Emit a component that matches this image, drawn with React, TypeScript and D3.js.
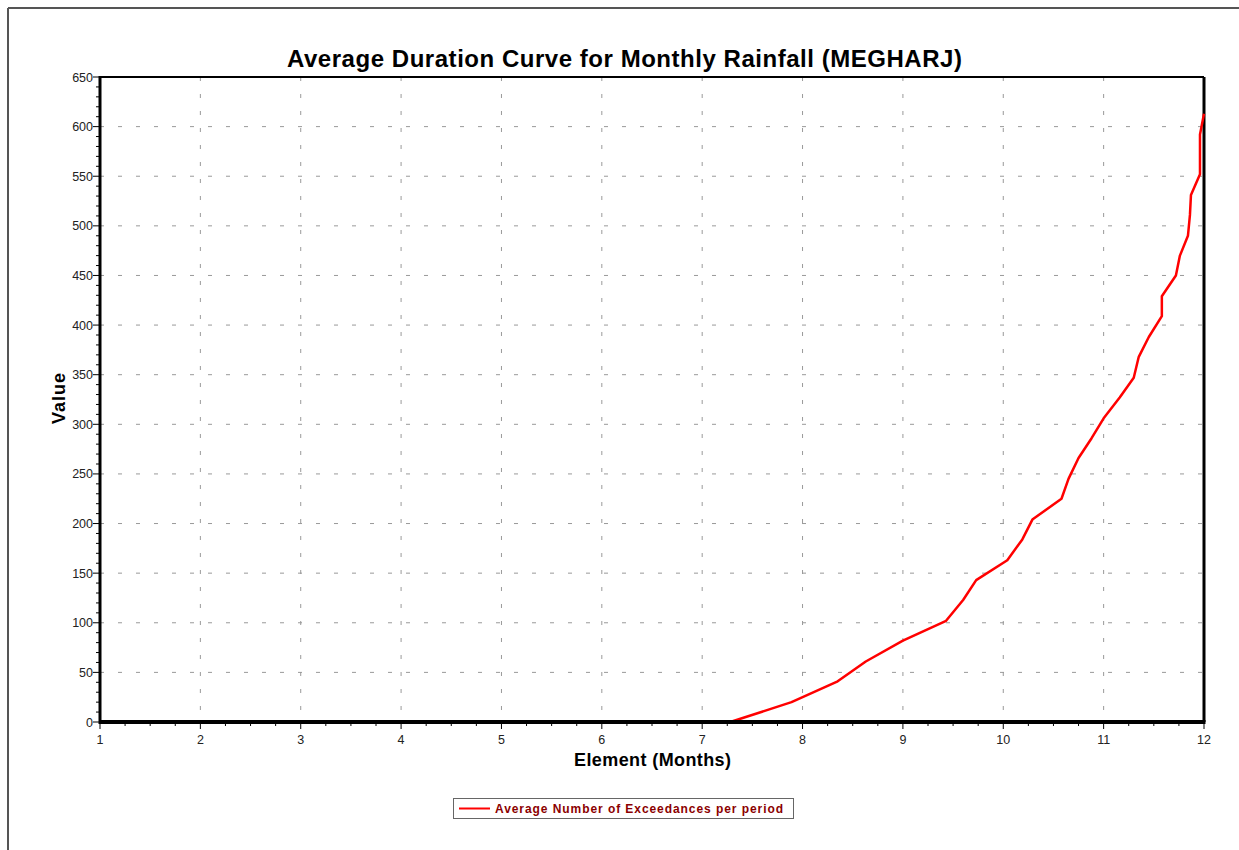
import React from "react";
import * as d3 from "d3";

const months = [7.28, 7.89, 8.35, 8.63, 9.0, 9.43, 9.6, 9.73, 10.04, 10.19, 10.29, 10.58, 10.65, 10.75, 10.88, 11.0, 11.16, 11.3, 11.35, 11.45, 11.58, 11.58, 11.72, 11.76, 11.84, 11.86, 11.87, 11.96, 11.96, 11.96, 12.0];
const values = [0, 20, 41, 61, 82, 102, 123, 143, 163, 184, 204, 225, 245, 266, 286, 306, 327, 347, 368, 388, 409, 429, 450, 470, 490, 511, 531, 552, 572, 592, 613];
const xTicks = [1, 2, 3, 4, 5, 6, 7, 8, 9, 10, 11, 12];
const yTicks = [0, 50, 100, 150, 200, 250, 300, 350, 400, 450, 500, 550, 600, 650];

const title = "Average Duration Curve for Monthly Rainfall (MEGHARJ)";
const xLabel = "Element (Months)";
const yLabel = "Value";
const legendLabel = "Average Number of Exceedances per period";

export default function App() {
  const W = 1239, H = 850;
  const x = d3.scaleLinear().domain([1, 12]).range([100, 1204]);
  const y = d3.scaleLinear().domain([0, 650]).range([722, 77]);
  const pts: [number, number][] = months.map((m, i) => [m, values[i]]);
  const line = d3.line<[number, number]>().x(d => x(d[0])).y(d => y(d[1]));
  const minorX = d3.range(1, 12.001, 0.25).filter(v => Math.abs(v - Math.round(v)) > 0.01);
  const minorY = d3.range(0, 650.1, 10).filter(v => v % 50 !== 0);
  const font = "Arial, 'Liberation Sans', Helvetica, sans-serif";
  const [x0, x1] = x.range();
  const [y0, y1] = y.range();
  return (
    <svg width={W} height={H} style={{ position: "absolute", left: 0, top: 0, background: "#fff" }} fontFamily={font}>
      <rect x={0} y={0} width={W} height={H} fill="#fff" />
      {/* outer frame */}
      <line x1={8} y1={8} x2={W + 2} y2={8} stroke="#555" strokeWidth={2} />
      <line x1={8} y1={8} x2={8} y2={H + 2} stroke="#555" strokeWidth={2} />
      <text x={624.5} y={67} textAnchor="middle" fontSize={24} fontWeight="bold" fill="#000" textLength={675} lengthAdjust="spacing">{title}</text>
      {/* grid */}
      {xTicks.slice(1).map(t => (
        <line key={"gx" + t} x1={x(t)} x2={x(t)} y1={y1} y2={y0} stroke="#999" strokeWidth={1} strokeDasharray="4,13" />
      ))}
      {yTicks.slice(1).map(t => (
        <line key={"gy" + t} x1={x0} x2={x1} y1={y(t)} y2={y(t)} stroke="#999" strokeWidth={1} strokeDasharray="4,14" />
      ))}
      {/* frame of plot */}
      <line x1={x0} x2={x1} y1={y1} y2={y1} stroke="#000" strokeWidth={2} />
      <line x1={x1} x2={x1} y1={y1} y2={y0} stroke="#000" strokeWidth={3} />
      {/* data */}
      <path d={line(pts) || ""} fill="none" stroke="#ff0000" strokeWidth={2.5} strokeLinejoin="round" />
      {/* axes */}
      <line x1={x0} x2={x0} y1={y1 - 1} y2={y0 + 2} stroke="#000" strokeWidth={3} />
      <line x1={x0} x2={x1 + 1.5} y1={y0} y2={y0} stroke="#000" strokeWidth={4} />
      {yTicks.map(t => (
        <g key={"ty" + t}>
          <line x1={x0 - 7} x2={x0} y1={y(t)} y2={y(t)} stroke="#000" strokeWidth={1} />
          <text x={x0 - 7} y={y(t) + 4.5} textAnchor="end" fontSize={12.5} fill="#222">{t}</text>
        </g>
      ))}
      {minorY.map(t => (
        <line key={"my" + t} x1={x0 - 4} x2={x0} y1={y(t)} y2={y(t)} stroke="#000" strokeWidth={1} />
      ))}
      {xTicks.map(t => (
        <g key={"tx" + t}>
          <line x1={x(t)} x2={x(t)} y1={y0} y2={y0 + 7} stroke="#000" strokeWidth={1} />
          <text x={x(t)} y={y0 + 22} textAnchor="middle" fontSize={12.5} fill="#222">{t}</text>
        </g>
      ))}
      {minorX.map(t => (
        <line key={"mx" + t} x1={x(t)} x2={x(t)} y1={y0} y2={y0 + 4} stroke="#000" strokeWidth={1} />
      ))}
      <text x={652.5} y={766} textAnchor="middle" fontSize={18} fontWeight="bold" fill="#000" textLength={157} lengthAdjust="spacing">{xLabel}</text>
      <text transform="translate(64.5,398.5) rotate(-90)" textAnchor="middle" fontSize={18} fontWeight="bold" fill="#000" textLength={51} lengthAdjust="spacing">{yLabel}</text>
      {/* legend */}
      <rect x={453.5} y={798.5} width={340} height={20} fill="#fff" stroke="#666" strokeWidth={1} />
      <line x1={459} x2={490} y1={808.5} y2={808.5} stroke="#ff0000" strokeWidth={2} />
      <text x={495} y={812.5} fontSize={12} fontWeight="bold" fill="#8b0000" textLength={288} lengthAdjust="spacing">{legendLabel}</text>
    </svg>
  );
}
